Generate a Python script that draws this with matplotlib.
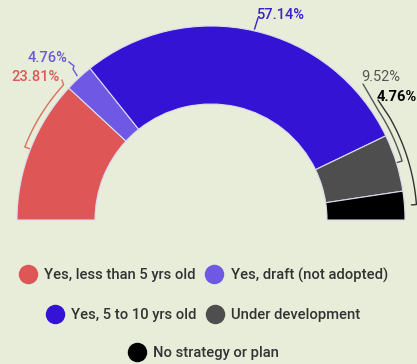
import numpy as np
import matplotlib.pyplot as plt
from matplotlib.lines import Line2D

plt.rcParams['font.family'] = ['Roboto', 'DejaVu Sans']

# Share of responses by strategy status
categories = ['Yes, less than 5 yrs old', 'Yes, draft (not adopted)', 'Yes, 5 to 10 yrs old',
              'Under development', 'No strategy or plan']
values = [23.81, 4.76, 57.14, 9.52, 4.76]
labels = ['23.81%', '4.76%', '57.14%', '9.52%', '4.76%']
colors = ['#de5656', '#6e58e4', '#3513d4', '#4e4e4e', '#000000']
label_colors = ['#de5656', '#6a5ad8', '#3a22cc', '#555555', '#000000']

bg = '#e7edd8'
W, H = 417, 364
cx, cy = 211, H - 220
r_out, ring = 194, 78

fig = plt.figure(figsize=(W / 100, H / 100), dpi=100, facecolor=bg)
ax = fig.add_axes([0, 0, 1, 1])
ax.set_facecolor(bg)

# half donut: pad with an invisible wedge equal to the total
wedges, _ = ax.pie(values + [sum(values)], colors=colors + ['none'], radius=r_out,
                   center=(cx, cy), startangle=180, counterclock=False,
                   wedgeprops=dict(width=ring, edgecolor='#dcdcf0', linewidth=0.8))
wedges[-1].set_visible(False)
ax.set_xlim(0, W)
ax.set_ylim(0, H)
ax.set_aspect('equal')
ax.axis('off')

cum = np.concatenate([[0], np.cumsum(values)])
mids = 180 - (cum[:-1] + cum[1:]) / 2 * 1.8


def pt(angle, r):
    a = np.radians(angle)
    return cx + r * np.cos(a), cy + r * np.sin(a)


def bracket(mid, far, r, end, color):
    # arc along the outer edge from the segment middle, then a leader to the label
    ang = np.linspace(mid, far, 40)
    xs, ys = pt(ang, r)
    tx, ty = pt(mid, r - 5)
    xs = np.concatenate([[tx], xs, [end[0]]])
    ys = np.concatenate([[ty], ys, [H - end[1]]])
    ax.plot(xs, ys, color=color, lw=1.0, solid_capstyle='round', clip_on=False)


def leader(pts, color):
    ax.plot([p[0] for p in pts], [p[1] for p in pts], color=color, lw=1.0, clip_on=False)


lc = ['#d9705e', '#6a5ad8', '#3a22cc', '#555555', '#333333']
bracket(mids[0], 137.5, 200, (62, 80), lc[0])
leader([pt(mids[1], r_out + 3), (73, H - 69), (74, H - 66), (69, H - 62)], lc[1])
leader([pt(mids[2], r_out + 2), (258, H - 18)], lc[2])
bracket(mids[3], 33, 200, (363, 84), lc[3])
bracket(mids[4], 30, 206, (378, 100), lc[4])

fs = 10.5
ax.text(60, H - 77, labels[0], color=label_colors[0], fontsize=fs, fontweight='medium',
        ha='right', va='center')
ax.text(28, H - 58, labels[1], color=label_colors[1], fontsize=fs, fontweight='medium',
        ha='left', va='center')
ax.text(256, H - 15, labels[2], color=label_colors[2], fontsize=fs, fontweight='medium',
        ha='left', va='center')
ax.text(361, H - 77, labels[3], color=label_colors[3], fontsize=fs,
        ha='left', va='center')
ax.text(377, H - 97, labels[4], color=label_colors[4], fontsize=fs, fontweight='bold',
        ha='left', va='center')

# legend rows, each centred
rows = [[0, 1], [2, 3], [4]]
row_y = [1 - 275 / H, 1 - 315 / H, 1 - 353 / H]
for idx, y in zip(rows, row_y):
    handles = [Line2D([], [], marker='o', ls='none', markersize=14, color=colors[i],
                      markeredgecolor='none') for i in idx]
    leg = fig.legend(handles, [categories[i] for i in idx], loc='center',
                     bbox_to_anchor=(0.49, y), ncol=len(idx), frameon=False,
                     prop=dict(size=10.6, weight='medium'), handlelength=1.0,
                     handletextpad=0.6, columnspacing=0.75, borderpad=0)
    for t in leg.get_texts():
        t.set_color('#333333')

fig.savefig('out.png', dpi=100, facecolor=bg)
